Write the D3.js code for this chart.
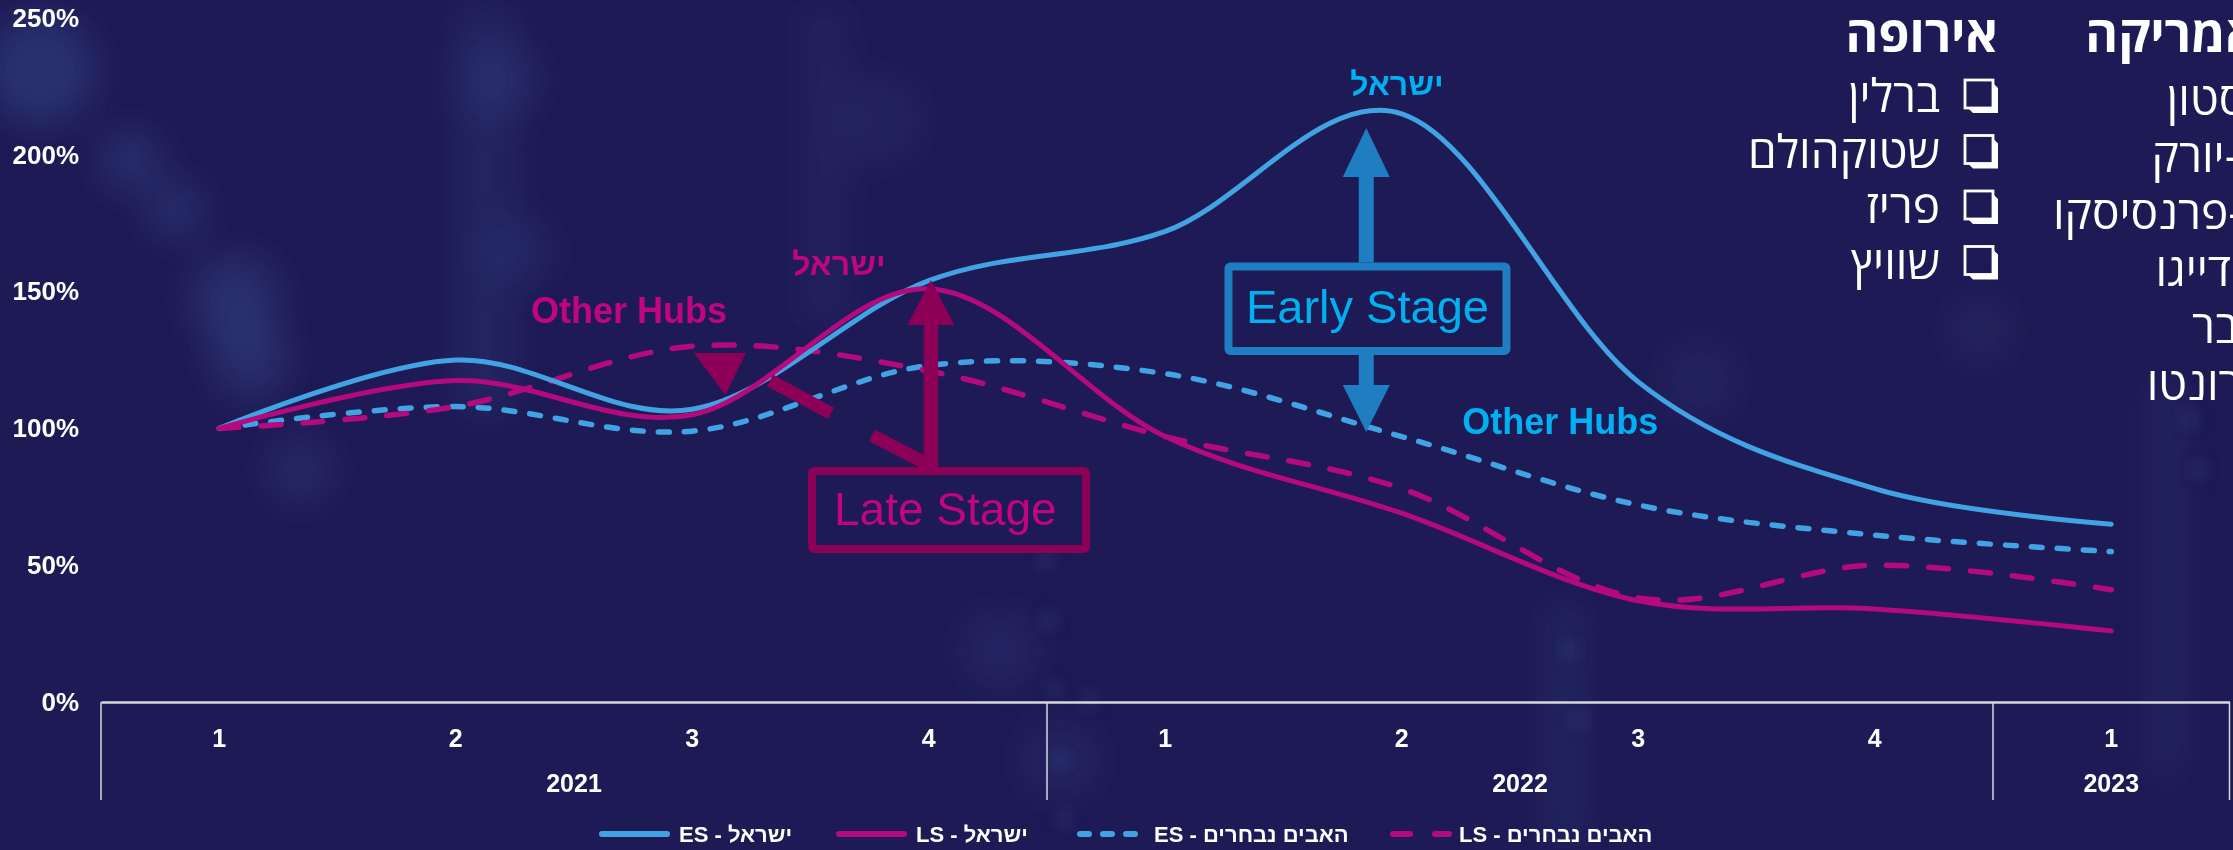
<!DOCTYPE html>
<html><head><meta charset="utf-8">
<script src="https://cdn.jsdelivr.net/npm/d3@7"></script>
<style>html,body{margin:0;padding:0;background:#1e1a55;overflow:hidden}</style>
</head><body>
<svg id="chart" width="2233" height="850"></svg>
<script>
// ---------- data ----------
const quarters = ["1","2","3","4","1","2","3","4","1"];
const years = ["2021","2022","2023"];
const yearSpans = [4,4,1];
const esIsrael = [100,125,107,154,172,215,117,78,65];
const lsIsrael = [100,117.5,105,151,97,69,37,34,26];
const esHubs   = [100,108,99,123,120,97,72,61,55];
const lsHubs   = [100,108,130,121,97,78,38,50,41];
const yTicks = [0,50,100,150,200,250];
const legendLabels = ["ES - ישראל","LS - ישראל","ES - האבים נבחרים","LS - האבים נבחרים"];
const europeTitle = "אירופה";
const europeCities = ["ברלין","שטוקהולם","פריז","שוויץ"];
const americaTitle = "צפון אמריקה";
const americaCities = ["בוסטון","ניו-יורק","סן-פרנסיסקו","סן דייגו","דנבר","טורונטו"];
const annoIsrael = "ישראל";
const annoHubs = "Other Hubs";
const annoEarly = "Early Stage";
const annoLate = "Late Stage";

// ---------- styles ----------
const ES = "#42a3e4", LS = "#b40a7d";
const ES_DARK = "#1f7dc1", LS_DARK = "#8c0058";
const ES_TXT = "#00b0f0", LS_TXT = "#c1047f";
const FONT = "'Liberation Sans', Arial, sans-serif";
const HFONT = "'Open Sans', 'Noto Sans', sans-serif";

const W = 2233, H = 850;
const svg = d3.select("#chart");

// ---------- background ----------
const defs = svg.append("defs");
defs.append("filter").attr("id","blur").attr("x","-50%").attr("y","-50%").attr("width","200%").attr("height","200%")
  .append("feGaussianBlur").attr("stdDeviation", 18);
defs.append("filter").attr("id","blur2").attr("x","-50%").attr("y","-50%").attr("width","200%").attr("height","200%")
  .append("feGaussianBlur").attr("stdDeviation", 8);
svg.append("rect").attr("width",W).attr("height",H).attr("fill","#1e1a55");
const bg = svg.append("g").attr("filter","url(#blur)");
[[40,70,55,0.35],[130,160,30,0.3],[175,210,28,0.3],[235,300,45,0.3],[250,360,40,0.28],[300,470,35,0.2],
 [500,80,40,0.18],[520,250,35,0.15],[880,120,45,0.12],[1000,650,40,0.15],[1060,760,40,0.15],[1700,380,40,0.12],[1980,330,35,0.12]]
 .forEach(([cx,cy,r,o]) => bg.append("circle").attr("cx",cx).attr("cy",cy).attr("r",r).attr("fill","#3f5f9f").attr("opacity",o));
[[455,0,60,420,0.14],[800,0,50,330,0.1],[1545,600,40,250,0.14],[2150,380,30,400,0.15]]
 .forEach(([x0,y0,w,h,o]) => bg.append("rect").attr("x",x0).attr("y",y0).attr("width",w).attr("height",h).attr("rx",w/2).attr("fill","#4565a8").attr("opacity",o));
const bg2 = svg.append("g").attr("filter","url(#blur2)");
[[1045,560],[1050,620],[1055,690],[1060,760],[1065,820],[1090,700],[1570,650],[1580,720],[2190,420],[2200,470]]
 .forEach(([cx,cy]) => bg2.append("circle").attr("cx",cx).attr("cy",cy).attr("r",6).attr("fill","#5b7cc4").attr("opacity",0.35));

// ---------- scales ----------
const x = d3.scaleBand().domain(d3.range(quarters.length)).range([101, 2229.5]).padding(0);
const bw = x.bandwidth();
const xc = i => x(i) + bw / 2;
const xf = t => xc(0) + t * bw;             // fractional category position
const y = d3.scaleLinear().domain([0, 250]).range([702, 18]);

// ---------- y axis ----------
const yAxis = svg.append("g").attr("transform","translate(79,0)")
  .call(d3.axisLeft(y).tickValues(yTicks).tickFormat(d => d + "%").tickSize(0).tickPadding(0));
yAxis.select(".domain").remove();
yAxis.selectAll("text").attr("fill","#ffffff").attr("font-family",FONT).attr("font-size",26).attr("font-weight","bold");

// ---------- category axis ----------
const xAxis = svg.append("g").attr("transform","translate(0,702)")
  .call(d3.axisBottom(x).tickFormat(i => quarters[i]).tickSize(0).tickPadding(27));
xAxis.select(".domain").attr("stroke","#d9d9d9").attr("stroke-width",2.5);
xAxis.selectAll("text").attr("fill","#ffffff").attr("font-family",FONT).attr("font-size",25).attr("font-weight","bold");
let acc = 0;
const seps = [0];
yearSpans.forEach(s => { acc += s; seps.push(acc); });
svg.append("g").selectAll("line").data(seps).join("line")
  .attr("x1", k => k < quarters.length ? x(k) : x(quarters.length-1) + bw)
  .attr("x2", k => k < quarters.length ? x(k) : x(quarters.length-1) + bw)
  .attr("y1", 702).attr("y2", 800).attr("stroke","#d9d9d9").attr("stroke-width",1.5);
acc = 0;
years.forEach((yr, k) => {
  const start = acc; acc += yearSpans[k];
  svg.append("text").attr("x", (x(start) + x(acc-1) + bw) / 2).attr("y", 792)
    .attr("text-anchor","middle").attr("fill","#fff").attr("font-family",FONT).attr("font-size",25).attr("font-weight","bold").text(yr);
});

// ---------- lines ----------
const line = d3.line().x((d,i) => xc(i)).y(d => y(d)).curve(d3.curveCardinal.tension(0));
const series = [
  {data: esHubs, color: ES, dash: "11,15", w: 5.5},
  {data: lsHubs, color: LS, dash: "20,22", w: 5.5},
  {data: esIsrael, color: ES, dash: null, w: 5},
  {data: lsIsrael, color: LS, dash: null, w: 5}
];
svg.append("g").selectAll("path").data(series).join("path")
  .attr("d", s => line(s.data)).attr("fill","none")
  .attr("stroke", s => s.color).attr("stroke-width", s => s.w)
  .attr("stroke-linecap","round").attr("stroke-dasharray", s => s.dash);

// ---------- annotations ----------
const ann = svg.append("g");
function arrow(cx, yFrom, yTip, shaftW, headW, headLen, color) {
  const dir = yTip < yFrom ? -1 : 1;
  const yHead = yTip - dir * headLen;
  const p = [[cx - shaftW/2, yFrom],[cx - shaftW/2, yHead],[cx - headW/2, yHead],[cx, yTip],
             [cx + headW/2, yHead],[cx + shaftW/2, yHead],[cx + shaftW/2, yFrom]];
  ann.append("path").attr("d", "M" + p.map(q => q.join(",")).join("L") + "Z").attr("fill", color);
}
// Early stage (ES)
const esBoxL = xf(4.855) - 139, esBoxR = xf(4.855) + 139;
ann.append("rect").attr("x", esBoxL).attr("y", y(159.2)).attr("width", esBoxR - esBoxL).attr("height", y(128.3) - y(159.2))
  .attr("fill","none").attr("stroke",ES_DARK).attr("stroke-width",8).attr("rx",2);
arrow(xf(4.85), y(159.2) - 4, y(209.8), 15, 47, 49, ES_DARK);
arrow(xf(4.85), y(128.3) + 4, y(98.7), 15, 47, 47, ES_DARK);
ann.append("text").attr("x", xf(4.855)).attr("y", y(138.5)).attr("text-anchor","middle")
  .attr("fill",ES_TXT).attr("font-family",FONT).attr("font-size",47).text(annoEarly);
ann.append("text").attr("x", xf(4.98)).attr("y", y(222)).attr("text-anchor","middle")
  .attr("fill",ES_TXT).attr("font-family",FONT).attr("font-size",32).attr("font-weight","bold").text(annoIsrael);
ann.append("text").attr("x", xf(5.67)).attr("y", y(97.8)).attr("text-anchor","middle")
  .attr("fill",ES_TXT).attr("font-family",FONT).attr("font-size",36).attr("font-weight","bold").text(annoHubs);

// Late stage (LS)
const lsBoxL = xf(3.086) - 137, lsBoxR = xf(3.086) + 137;
ann.append("rect").attr("x", lsBoxL).attr("y", y(84.4)).attr("width", lsBoxR - lsBoxL).attr("height", y(55.9) - y(84.4))
  .attr("fill","none").attr("stroke",LS_DARK).attr("stroke-width",8).attr("rx",2);
arrow(xf(3.009), y(84.4) - 4, y(154.2), 14.5, 47, 45, LS_DARK);
ann.append("text").attr("x", xf(3.07)).attr("y", y(64.7)).attr("text-anchor","middle")
  .attr("fill",LS_TXT).attr("font-family",FONT).attr("font-size",46).text(annoLate);
ann.append("path").attr("d", `M${xf(2.117)-26},${y(127.6)}L${xf(2.117)+26},${y(127.6)}L${xf(2.14)},${y(112.2)}Z`).attr("fill",LS_DARK);
[[2.329,117.5,2.587,105.5],[2.760,97.5,2.988,87.2]].forEach(([a,b,c,d]) =>
  ann.append("line").attr("x1",xf(a)).attr("y1",y(b)).attr("x2",xf(c)).attr("y2",y(d))
    .attr("stroke",LS_DARK).attr("stroke-width",13));
ann.append("text").attr("x", xf(2.62)).attr("y", y(156.2)).attr("text-anchor","middle")
  .attr("fill",LS_TXT).attr("font-family",FONT).attr("font-size",32).attr("font-weight","bold").text(annoIsrael);
ann.append("text").attr("x", xf(1.733)).attr("y", y(138.7)).attr("text-anchor","middle")
  .attr("fill",LS_TXT).attr("font-family",FONT).attr("font-size",36).attr("font-weight","bold").text(annoHubs);

// ---------- bottom legend ----------
const legItems = [
  {sx: 599, ex: 670, tx: 679, color: ES, dash: null},
  {sx: 836, ex: 907, tx: 916, color: LS, dash: null},
  {sx: 1077, ex: 1139, tx: 1154, color: ES, dash: "9,14"},
  {sx: 1390, ex: 1452, tx: 1459, color: LS, dash: "17,25"}
];
const leg = svg.append("g");
legItems.forEach((it, k) => {
  leg.append("line").attr("x1", it.sx + 3).attr("x2", it.ex - 3).attr("y1", 834).attr("y2", 834)
    .attr("stroke", it.color).attr("stroke-width", 6).attr("stroke-linecap","round").attr("stroke-dasharray", it.dash);
  leg.append("text").attr("x", it.tx).attr("y", 842).attr("fill","#fff").attr("font-family",FONT)
    .attr("font-size",22).attr("font-weight","bold").text(legendLabels[k]);
});

// ---------- hub lists (top right) ----------
const lists = svg.append("g").attr("font-family",HFONT).attr("fill","#fff");
function checkbox(right, cy) {
  const s = 28;
  const l = right - s - 5, t = cy - s/2 - 3;
  lists.append("rect").attr("x", l).attr("y", t).attr("width", s).attr("height", s)
    .attr("fill","none").attr("stroke","#fff").attr("stroke-width",2.8);
  lists.append("path").attr("d", `M${l+3},${t+s}L${l+s},${t+s}L${l+s},${t+3}L${right},${t+8}L${right},${t+s+5}L${l+8},${t+s+5}Z`)
    .attr("fill","#fff");
}
function hubList(title, cities, right, textEnd, titleEnd, rowStart, rowStep) {
  lists.append("text").attr("x", titleEnd).attr("y", 52).attr("text-anchor","end")
    .attr("font-size",50).attr("font-weight","bold").text(title);
  cities.forEach((c, k) => {
    const cy = rowStart + k * rowStep;
    checkbox(right, cy);
    lists.append("text").attr("x", textEnd).attr("y", cy + 15).attr("text-anchor","end")
      .attr("font-size",46).text(c);
  });
}
hubList(europeTitle, europeCities, 1998, 1940, 1998, 97, 55.5);
hubList(americaTitle, americaCities, 2340, 2282, 2363, 100, 57);
</script>
</body></html>
